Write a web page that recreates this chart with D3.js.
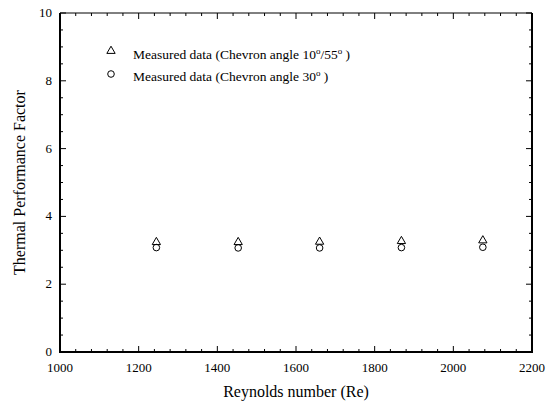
<!DOCTYPE html>
<html>
<head>
<meta charset="utf-8">
<script src="https://cdn.jsdelivr.net/npm/d3@7"></script>
<style>
  body { margin: 0; background: #fff; }
</style>
</head>
<body>
<svg width="549" height="405"></svg>
<script>
// measured points
let reynolds = [1245, 1453, 1660, 1868, 2075];
let tpf1055 = [3.24, 3.24, 3.25, 3.27, 3.29]; // chevron 10/55
let tpf30 = [3.08, 3.07, 3.07, 3.08, 3.09];   // chevron 30

let xTicks = [1000, 1200, 1400, 1600, 1800, 2000, 2200];
let yTicks = [0, 2, 4, 6, 8, 10];

let serif = "'Liberation Serif', 'Times New Roman', Times, 'DejaVu Serif', serif";

let svg = d3.select("svg").style("font-family", serif);

let margin = { top: 13, right: 17, bottom: 53, left: 60 };
let plotWidth = 549 - margin.left - margin.right;
let plotHeight = 405 - margin.top - margin.bottom;

let x = d3.scaleLinear().domain([1000, 2200]).range([0, plotWidth]);
let y = d3.scaleLinear().domain([0, 10]).range([plotHeight, 0]);

let plot = svg.append("g")
  .attr("transform", "translate(" + margin.left + "," + margin.top + ")");

// minor ticks every 40 on x, every 0.5 on y, all pointing inward
let xMinor = d3.range(1000, 2201, 40);
let yMinor = d3.range(0, 10.01, 0.5);

let ticks = plot.append("g").attr("stroke", "#000").attr("stroke-width", 1);
xMinor.forEach(function(v) {
  let len = (v % 200 === 0) ? 6 : 3;
  ticks.append("line").attr("x1", x(v)).attr("x2", x(v))
    .attr("y1", plotHeight).attr("y2", plotHeight - len);
  ticks.append("line").attr("x1", x(v)).attr("x2", x(v))
    .attr("y1", 0).attr("y2", len);
});
yMinor.forEach(function(v) {
  let len = (Math.abs(v % 2) < 1e-9) ? 6 : 3;
  ticks.append("line").attr("y1", y(v)).attr("y2", y(v))
    .attr("x1", 0).attr("x2", len);
  ticks.append("line").attr("y1", y(v)).attr("y2", y(v))
    .attr("x1", plotWidth).attr("x2", plotWidth - len);
});

// frame: top thin, the others heavier
plot.append("line").attr("x1", 0).attr("x2", plotWidth).attr("y1", 0).attr("y2", 0)
  .attr("stroke", "#000").attr("stroke-width", 1);
plot.append("path")
  .attr("d", "M0,0V" + plotHeight + "H" + plotWidth + "V0")
  .attr("fill", "none").attr("stroke", "#000").attr("stroke-width", 2);

// tick labels
plot.selectAll("text.xl").data(xTicks).enter().append("text")
  .attr("class", "xl")
  .attr("x", function(d) { return x(d); })
  .attr("y", plotHeight + 20)
  .attr("text-anchor", "middle")
  .attr("font-size", 13)
  .text(function(d) { return d; });

plot.selectAll("text.yl").data(yTicks).enter().append("text")
  .attr("class", "yl")
  .attr("x", -8)
  .attr("y", function(d) { return y(d) + 4; })
  .attr("text-anchor", "end")
  .attr("font-size", 13)
  .text(function(d) { return d; });

// axis titles
svg.append("text")
  .attr("x", margin.left + plotWidth / 2)
  .attr("y", 397)
  .attr("text-anchor", "middle")
  .attr("font-size", 16)
  .text("Reynolds number (Re)");

svg.append("text")
  .attr("transform", "translate(25," + (margin.top + plotHeight / 2) + ") rotate(-90)")
  .attr("text-anchor", "middle")
  .attr("font-size", 16)
  .text("Thermal Performance Factor");

// markers
let tri = d3.symbol().type(d3.symbolTriangle).size(30);

plot.selectAll("path.tri").data(reynolds).enter().append("path")
  .attr("class", "tri")
  .attr("d", tri)
  .attr("transform", function(d, i) { return "translate(" + x(d) + "," + y(tpf1055[i]) + ")"; })
  .attr("fill", "none").attr("stroke", "#000").attr("stroke-width", 1);

plot.selectAll("circle.c30").data(reynolds).enter().append("circle")
  .attr("class", "c30")
  .attr("cx", function(d) { return x(d); })
  .attr("cy", function(d, i) { return y(tpf30[i]); })
  .attr("r", 3.3)
  .attr("fill", "none").attr("stroke", "#000").attr("stroke-width", 1);

// legend
let legend = svg.append("g");
legend.append("path").attr("d", tri)
  .attr("transform", "translate(111,51)")
  .attr("fill", "none").attr("stroke", "#000");
legend.append("circle").attr("cx", 111).attr("cy", 74).attr("r", 3.3)
  .attr("fill", "none").attr("stroke", "#000");

let t1 = legend.append("text").attr("x", 133).attr("y", 58.5).attr("font-size", 13.5);
t1.append("tspan").text("Measured data (Chevron angle 10");
t1.append("tspan").attr("dy", -5).attr("font-size", 9).text("o");
t1.append("tspan").attr("dy", 5).text("/55");
t1.append("tspan").attr("dy", -5).attr("font-size", 9).text("o");
t1.append("tspan").attr("dy", 5).text(" )");

let t2 = legend.append("text").attr("x", 133).attr("y", 81).attr("font-size", 13.5);
t2.append("tspan").text("Measured data (Chevron angle 30");
t2.append("tspan").attr("dy", -5).attr("font-size", 9).text("o");
t2.append("tspan").attr("dy", 5).text(" )");
</script>
</body>
</html>
